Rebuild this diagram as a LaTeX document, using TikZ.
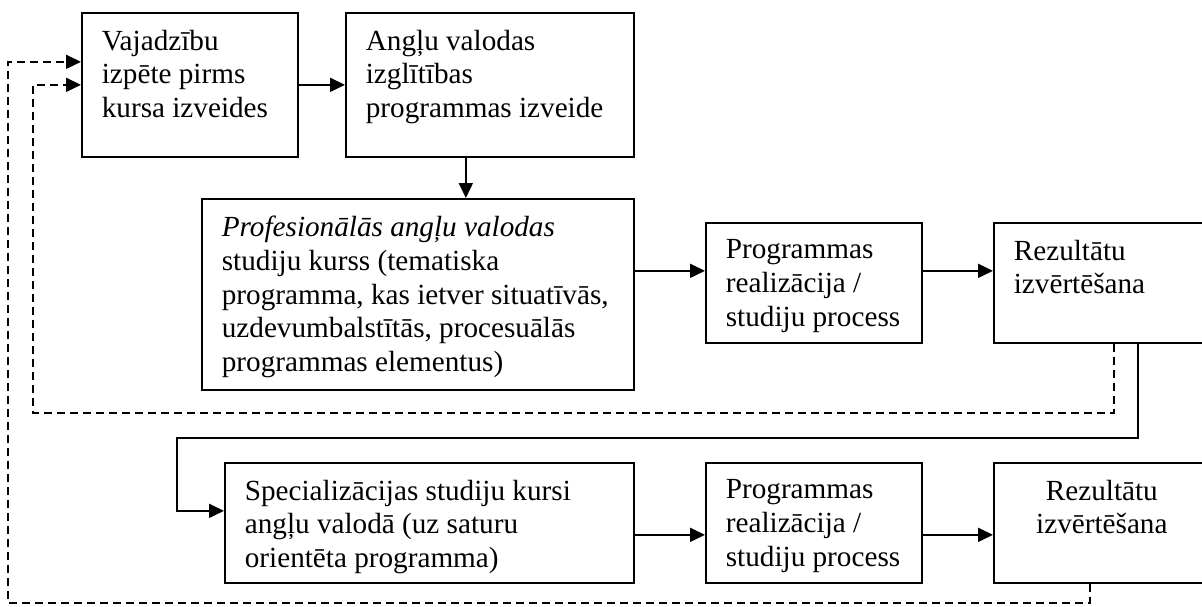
\documentclass[tikz,border=0pt]{standalone}
\usepackage{fontspec}
\setmainfont{Liberation Serif}
\usetikzlibrary{arrows.meta,positioning,calc}
\newcommand{\boxtext}[3]{\parbox[c][#2][t]{#1}{\raggedright\leftskip=10pt #3}}

\begin{document}
\begin{tikzpicture}[x=0.5pt,y=-0.5pt,
  stagebox/.style={draw,line width=0.85pt,anchor=north west,inner xsep=0pt,inner ysep=8.5pt,
    font=\fontsize{14.6pt}{16.9pt}\selectfont},
  arr/.style={-{Triangle[length=7.5pt,width=7pt]},line width=0.85pt},
  fbdash/.style={arr,dash pattern=on 4pt off 2.5pt}
]
  \useasboundingbox (0,0) rectangle (1202,606);

  % Top row
  \node[stagebox] (need) at (81,12) {\boxtext{108pt}{55pt}{Vajadzību\\izpēte pirms\\kursa izveides}};
  \node[stagebox] (design) at (345,12) {\boxtext{144pt}{55pt}{Angļu valodas\\izglītības\\programmas izveide}};

  % Course row
  \node[stagebox] (course) at (201,198) {\boxtext{216pt}{78.5pt}{\textit{Profesionālās angļu valodas}\\studiju kurss (tematiska\\programma, kas ietver situatīvās,\\uzdevumbalstītās, procesuālās\\programmas elementus)}};
  \node[stagebox] (real1) at (705,222) {\boxtext{108pt}{43pt}{Programmas\\realizācija /\\studiju process}};
  \node[stagebox] (eval1) at (993,222) {\boxtext{114pt}{43pt}{Rezultātu\\izvērtēšana}};

  % Specialisation row
  \node[stagebox] (spec) at (224,462) {\boxtext{204.5pt}{43pt}{Specializācijas studiju kursi\\angļu valodā (uz saturu\\orientēta programma)}};
  \node[stagebox] (real2) at (705,462) {\boxtext{108pt}{43pt}{Programmas\\realizācija /\\studiju process}};
  \node[stagebox] (eval2) at (993,462) {\boxtext{114pt}{43pt}{\centering\rightskip=6pt plus 1fil Rezultātu\\izvērtēšana}};

  % Feedback corners
  \coordinate (railin) at (33,413);
  \coordinate (railout) at (8,603);
  \coordinate (railspec) at (177,438);

  % Arrows
  \draw[arr] (need) -- (design);
  \draw[arr] ([xshift=-12pt]design.south) -- ([xshift=-12pt]design.south |- course.north);
  \draw[arr] ([yshift=6pt]real1.west -| course.east) -- ([yshift=6pt]real1.west);
  \draw[arr] ([yshift=6pt]real1.east) -- ([yshift=6pt]eval1.west);
  \draw[arr] ([yshift=-6pt]spec.east) -- ([yshift=-6pt]real2.west);
  \draw[arr] ([yshift=-6pt]real2.east) -- ([yshift=-6pt]eval2.west);
  \draw[arr] ([xshift=15pt]eval1.south) |- (railspec) |- ([yshift=6pt]spec.west);
  \draw[fbdash] ([xshift=3pt]eval1.south) |- (railin) |- (need.west);
  \draw[fbdash] ([xshift=-9pt]eval2.south) |- (railout) |- ([yshift=11.5pt]need.west);
\end{tikzpicture}
\end{document}
